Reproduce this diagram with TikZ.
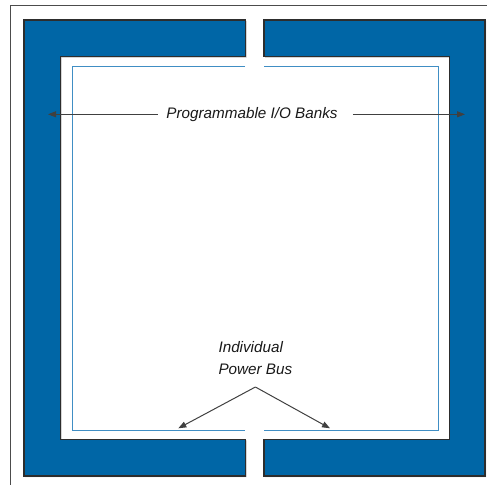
\documentclass[tikz,border=0pt]{standalone}
\usepackage{fontspec}
\setmainfont{Liberation Sans}
\usetikzlibrary{arrows.meta}
\definecolor{bankblue}{RGB}{0,102,166}
\definecolor{busblue}{RGB}{64,142,196}
\definecolor{edgegray}{RGB}{45,45,45}
\begin{document}
\begin{tikzpicture}[x=1bp,y=-1bp,
    bank/.style={fill=bankblue, draw=edgegray, line width=1.1bp},
    shade/.style={fill=black!25, draw=none},
    bus/.style={draw=busblue, line width=1.5bp},
    label/.style={font=\fontsize{15.3}{22}\selectfont\itshape, text=black!90, inner sep=0pt},
    pointer/.style={draw=black!75, line width=1bp, -{Triangle[length=8bp,width=6bp]}}]
    \useasboundingbox (0,0) rectangle (487,485);
    \clip (0,0) rectangle (487,485);
    % frame
    \draw[black!70, line width=1bp] (10.7,5.7) rectangle (495,495);
	% I/O banks
    \fill[shade] (246.7,21) -- (25,21) -- (25,477) -- (246.7,477) -- (246.7,440.3) -- (61.7,440.3) -- (61.7,57.7) -- (246.7,57.7) -- cycle;
    \fill[shade] (265,21) -- (486,21) -- (486,477) -- (265,477) -- (265,440.3) -- (450.3,440.3) -- (450.3,57.7) -- (265,57.7) -- cycle;
    \filldraw[bank] (245.7,20) -- (24,20) -- (24,476) -- (245.7,476) -- (245.7,439.3) -- (60.7,439.3) -- (60.7,56.7) -- (245.7,56.7) -- cycle;
    \filldraw[bank] (264,20) -- (485,20) -- (485,476) -- (264,476) -- (264,439.3) -- (449.3,439.3) -- (449.3,56.7) -- (264,56.7) -- cycle;
	% power bus
    \draw[bus] (245,66.7) -- (72.7,66.7) -- (72.7,430.7) -- (245,430.7);
    \draw[bus] (264,66.7) -- (438.3,66.7) -- (438.3,430.7) -- (264,430.7);
    % labels
    \node[label] (banks) at (252,115) {Programmable I/O Banks};
    \node[label, align=left, anchor=south, inner ysep=12bp] (power) at (255.4,387) {Individual\\Power Bus};
    \coordinate (bankL) at (48,114.3);
    \coordinate (bankR) at (465,114.3);
    \coordinate (busL) at (178.3,428.3);
    \coordinate (busR) at (330,428.3);
    \draw[pointer, shorten <=8.5bp] (banks.west |- bankL) -- (bankL);
    \draw[pointer, shorten <=15bp] (banks.east |- bankR) -- (bankR);
    \draw[pointer] (power.south) -- (busL);
    \draw[pointer] (power.south) -- (busR);
	\end{tikzpicture}
\end{document}
